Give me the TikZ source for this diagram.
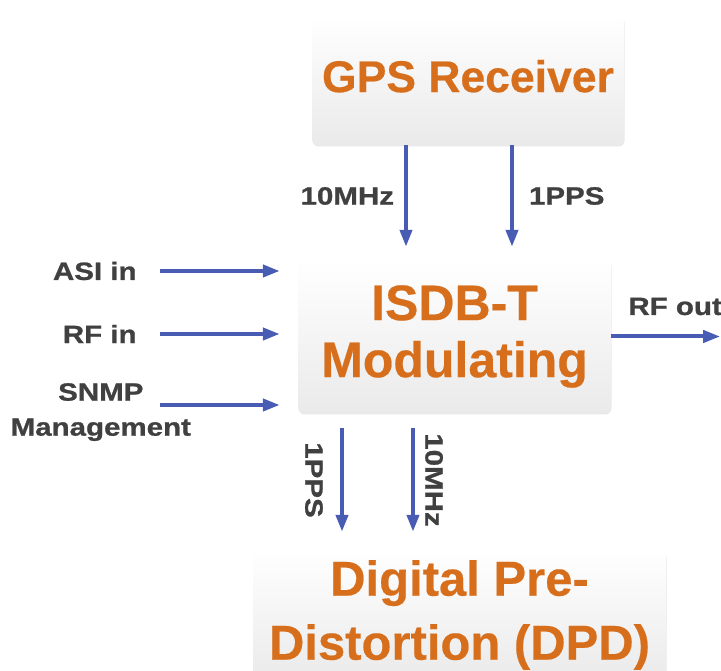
\documentclass[tikz,border=0pt]{standalone}
\usepackage{fontspec}
\setmainfont{Liberation Sans}[FakeBold=0.4]
\newfontfamily\lblfont[FakeStretch=1.18,FakeBold=0.9]{Liberation Sans}
\usepackage{tikz}
\usetikzlibrary{arrows.meta,positioning,shadows}
\definecolor{boxorange}{RGB}{214,110,28}
\definecolor{sigblue}{RGB}{72,92,180}
\definecolor{lblgray}{RGB}{64,64,64}
\definecolor{boxgray}{RGB}{234,234,234}

\begin{document}
\begin{tikzpicture}[x=1pt,y=1pt,
  blk/.style={rounded corners=6pt,top color=white,bottom color=boxgray,
    drop shadow={opacity=0.18,shadow xshift=0.5pt,shadow yshift=-1.5pt},
    text=boxorange,align=center,inner sep=0pt},
  sig/.style={draw=sigblue,line width=4pt,-{Triangle[length=17pt,width=12pt]}},
  lbl/.style={text=lblgray,font=\lblfont\fontsize{25}{35}\selectfont\bfseries,inner sep=0pt}]
\useasboundingbox (0,0) rectangle (721,671);

% blocks
\node[blk,minimum width=312pt,minimum height=130pt,text depth=8pt,
  font=\fontsize{44.5}{50}\selectfont\bfseries] (gps) at (468,591) {GPS Receiver};
\node[blk,minimum width=313pt,minimum height=153pt,
  font=\fontsize{50}{57}\selectfont\bfseries] (isdb) at (454.5,334.5) {ISDB-T\\Modulating};
\node[blk,minimum width=413pt,minimum height=130pt,
  font=\fontsize{49}{64}\selectfont\bfseries] (dpd) at (459.5,56) {Digital Pre-\\Distortion (DPD)};

% clocks from the receiver
\draw[sig] ([xshift=-62pt]gps.south) coordinate (t1)
  -- node[lbl,midway,left=10pt] (mhzA) {10MHz} ([yshift=13pt]isdb.north -| t1);
\draw[sig] ([xshift=44pt]gps.south) coordinate (t2)
  -- node[lbl,midway,right=15pt] (ppsA) {1PPS} ([yshift=13pt]isdb.north -| t2);

% inputs
\coordinate (a1) at ([xshift=-138pt,yshift=65.5pt]isdb.west);
\coordinate (a2) at ([xshift=-138pt,yshift=2.5pt]isdb.west);
\coordinate (a3) at ([xshift=-138pt,yshift=-68.5pt]isdb.west);
\draw[sig] (a1) -- ([xshift=-18pt]isdb.west |- a1);
\draw[sig] (a2) -- ([xshift=-18pt]isdb.west |- a2);
\draw[sig] (a3) -- ([xshift=-18pt]isdb.west |- a3);
\node[lbl,left=23pt of a1] (asi) {ASI in};
\node[lbl,left=23pt of a2] (rfin) {RF in};
\node[lbl,align=center,anchor=north] (snmp) at ([xshift=-59pt,yshift=22pt]a3) {SNMP\\Management};

% output
\coordinate (rfo) at ([xshift=109pt]isdb.east);
\draw[sig] (isdb.east) -- (rfo);
\node[lbl,anchor=base west] (rfout) at ([xshift=17pt,yshift=21.5pt]isdb.east) {RF out};

% clocks to the DPD
\draw[sig] ([xshift=-112.5pt,yshift=-15pt]isdb.south) coordinate (b1)
  -- coordinate[midway] (b1m) ([yshift=18pt]dpd.north -| b1);
\draw[sig] ([xshift=-41.5pt,yshift=-15pt]isdb.south) coordinate (b2)
  -- coordinate[midway] (b2m) ([yshift=18pt]dpd.north -| b2);
\node[lbl,rotate=-90,anchor=north] (ppsB) at ([xshift=-19pt]b1m) {1PPS};
\node[lbl,rotate=-90,anchor=south] (mhzB) at ([xshift=12pt]b2m) {10MHz};
\end{tikzpicture}
\end{document}
